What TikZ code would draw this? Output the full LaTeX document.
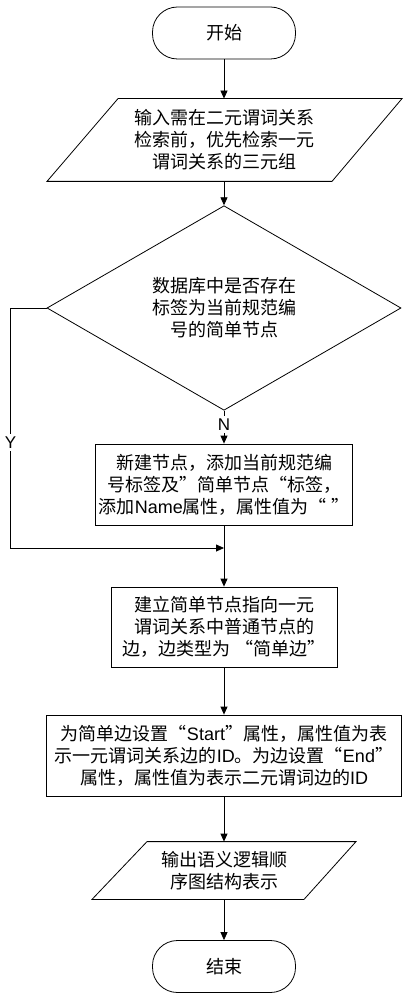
\documentclass[tikz,border=0pt]{standalone}
\usepackage{fontspec}
\setmainfont{Noto Sans CJK SC}
\newfontfamily\lt{Liberation Sans}
\usetikzlibrary{arrows.meta,shapes.geometric}

\begin{document}
\begin{tikzpicture}[x=1pt,y=-1pt,
  every node/.style={font=\fontsize{18}{22}\selectfont, align=center, inner sep=0pt},
  terminal/.style={draw, rounded corners=25pt, minimum width=143pt, minimum height=52pt},
  iobox/.style={minimum height=#1},
  process/.style={draw, rectangle, minimum width=#1},
  decision/.style={draw, diamond, minimum width=354pt, minimum height=158pt},
  flow/.style={-{Triangle[length=8pt,width=7pt]}},
  line width=0.8pt]
  \useasboundingbox (0,0) rectangle (411,1000);

  \node[terminal] (start) at (224,33) {开始};
  \node[iobox=82pt] (in1) at (224,140) {输入需在二元谓词关系\\检索前，优先检索一元\\谓词关系的三元组};
  \draw ([xshift=-177pt]in1.south) -- ([xshift=-106pt]in1.north) -- ([xshift=178pt]in1.north) -- ([xshift=108pt]in1.south) -- cycle;
  \node[decision] (dec) at (224,308) {数据库中是否存在\\标签为当前规范编\\号的简单节点};
  \node[process=257pt, minimum height=81pt] (box1) at (224,484.5) {新建节点，添加当前规范编\\号标签及”简单节点“标签，\\添加{\lt Name}属性，属性值为“ ”};
  \coordinate (merge) at (224,548);
  \node[process=226pt, minimum height=80pt] (box2) at (224,627) {建立简单节点指向一元\\谓词关系中普通节点的\\边，边类型为 “简单边”};
  \node[process=355pt, minimum height=81pt] (box3) at (224,755.5) {为简单边设置“{\lt Start}”属性，属性值为表\\示一元谓词关系边的{\lt ID}。为边设置“{\lt End}”\\属性，属性值为表示二元谓词边的{\lt ID}};
  \node[iobox=57pt] (out) at (224,870.5) {输出语义逻辑顺\\序图结构表示};
  \draw ([xshift=-132pt]out.south) -- ([xshift=-77pt]out.north) -- ([xshift=132pt]out.north) -- ([xshift=80pt]out.south) -- cycle;
  \node[terminal] (end) at (224,966.5) {结束};

  \draw[flow] (start) -- (in1);
  \draw[flow] (in1) -- (dec);
  \draw[flow] (dec) -- node[pos=0.42, fill=white, inner sep=3pt, font=\lt\fontsize{17}{20}\selectfont] {N} (box1);
  \draw[flow] (dec.west) -- ++(-36,0) |- node[pos=0.28, fill=white, inner sep=3pt, font=\lt\fontsize{17}{20}\selectfont] {Y} (merge);
  \draw[flow] (box1) -- (box2);
  \draw[flow] (box2) -- (box3);
  \draw[flow] (box3) -- (out);
  \draw[flow] (out) -- (end);
\end{tikzpicture}
\end{document}
